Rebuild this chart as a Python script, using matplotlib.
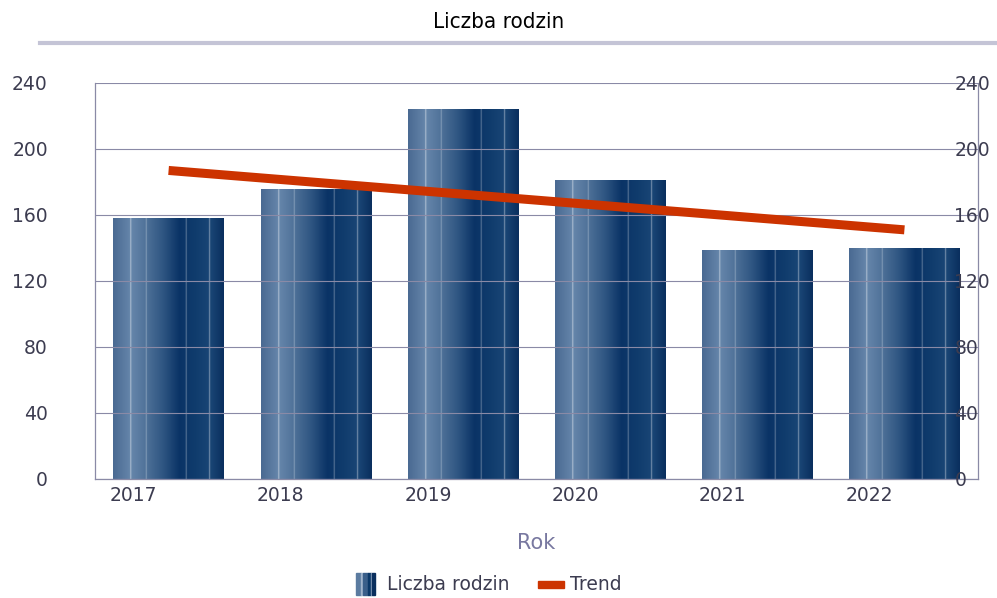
import numpy as np
import matplotlib
matplotlib.use("Agg")
import matplotlib.pyplot as plt
from matplotlib.colors import LinearSegmentedColormap
from matplotlib.lines import Line2D
from matplotlib.patches import Rectangle
from matplotlib.legend_handler import HandlerBase
from matplotlib.transforms import ScaledTranslation

# =========================
# DATA
# =========================
years = ["2017", "2018", "2019", "2020", "2021", "2022"]
families = [158, 176, 224, 181, 139, 140]
trend_ends = [187, 151]   # trend line at first and last year
y_ticks = [0, 40, 80, 120, 160, 200, 240]

# =========================
# STYLE
# =========================
TEXT = "#3c3c50"
GRID = "#8a8aa6"
RED = "#cc3300"
plt.rcParams["font.family"] = ["DejaVu Sans"]

bar_cmap = LinearSegmentedColormap.from_list("bar", [
    (0.00, "#4a6a92"),
    (0.16, "#6686ab"),
    (0.28, "#52749b"),
    (0.45, "#2f5682"),
    (0.60, "#0a3366"),
    (0.75, "#103c6d"),
    (0.88, "#1a4676"),
    (1.00, "#0a2f5e"),
])
grad = bar_cmap(np.linspace(0, 1, 400))[:, :3]
for pos, amt in [(0.16, 0.45), (0.30, 0.28), (0.66, 0.3), (0.87, 0.4)]:
    i = int(pos * 400)
    grad[i - 2:i + 2] = grad[i - 2:i + 2] + (1 - grad[i - 2:i + 2]) * amt
grad = grad[np.newaxis, :, :]

# =========================
# FIGURE
# =========================
fig = plt.figure(figsize=(9.97, 5.98), dpi=100)
ax = fig.add_axes([95 / 997, 119 / 598, 883 / 997, 396 / 598])

x = np.arange(len(years))
bars = ax.bar(x, families, width=0.75, color="#1a4677", zorder=1)
for b in bars:
    im = ax.imshow(grad, extent=[b.get_x(), b.get_x() + b.get_width(), 0, b.get_height()],
                   aspect="auto", zorder=1.1, interpolation="bilinear")
    im.set_clip_path(b)

ax.plot([x[0], x[-1]], trend_ends, color=RED, lw=6.5, zorder=3, solid_capstyle="butt")

ax.set_xlim(-0.5, len(years) - 0.5)
ax.set_ylim(0, 240)
ax.set_yticks(y_ticks)
ax.set_axisbelow(False)
ax.grid(axis="y", color=GRID, lw=0.8)
for gl in ax.get_ygridlines():
    gl.set_zorder(2)
for s in ["left", "bottom", "right"]:
    ax.spines[s].set_color(GRID)
    ax.spines[s].set_linewidth(0.9)
ax.spines["top"].set_visible(False)

ax.tick_params(axis="y", length=0, pad=34, labelsize=13.5, labelcolor=TEXT)
ax.set_xticks(x)
ax.set_xticklabels(years)
ax.tick_params(axis="x", length=0, pad=5, labelsize=13.5, labelcolor=TEXT)
shift = ScaledTranslation(-0.35, 0, fig.dpi_scale_trans)
for lab in ax.get_xticklabels():
    lab.set_transform(lab.get_transform() + shift)

ax2 = ax.twinx()
ax2.set_ylim(ax.get_ylim())
ax2.set_yticks(y_ticks)
ax2.tick_params(axis="y", length=0, pad=-17, labelsize=13.5, labelcolor=TEXT)
for s in ax2.spines.values():
    s.set_visible(False)

ax.set_xlabel("Rok", fontsize=15, color="#7878a0", labelpad=20)

# =========================
# TITLE
# =========================
fig.text(0.5, 1 - 22 / 598, "Liczba rodzin", ha="center", va="center",
         fontsize=16, color="black", fontstretch="condensed",
         family=["DejaVu Sans"])
fig.add_artist(Line2D([40 / 997, 1], [1 - 43 / 598] * 2, color="#c4c4d6", lw=3))

# =========================
# LEGEND
# =========================
class StripeHandler(HandlerBase):
    def create_artists(self, legend, orig, xd, yd, w, h, fontsize, trans):
        cols = ["#5b7ba0", "#a0b4cc", "#3a5f8a", "#0b3868", "#8aa0bc", "#0a2f5e"]
        widths = [0.3, 0.06, 0.25, 0.2, 0.05, 0.14]
        arts, left = [], xd
        for c, wf in zip(cols, widths):
            r = Rectangle((left, yd - 3), wf * h * 1.5, h + 6, color=c, transform=trans)
            arts.append(r)
            left += wf * h * 1.5
        return arts

class RedHandler(HandlerBase):
    def create_artists(self, legend, orig, xd, yd, w, h, fontsize, trans):
        return [Rectangle((xd, yd + h * 0.2), w, h * 0.55, color=RED, transform=trans)]

bar_proxy = Rectangle((0, 0), 1, 1)
line_proxy = Line2D([], [])
fig.legend([bar_proxy, line_proxy], ["Liczba rodzin", "Trend"],
           handler_map={bar_proxy: StripeHandler(), line_proxy: RedHandler()},
           loc="center", bbox_to_anchor=(0.49, 1 - 585 / 598), ncol=2, frameon=False,
           fontsize=13.5, labelcolor=TEXT, handlelength=1.4, handletextpad=0.3,
           columnspacing=1.5)

plt.savefig("out.png", dpi=100)
